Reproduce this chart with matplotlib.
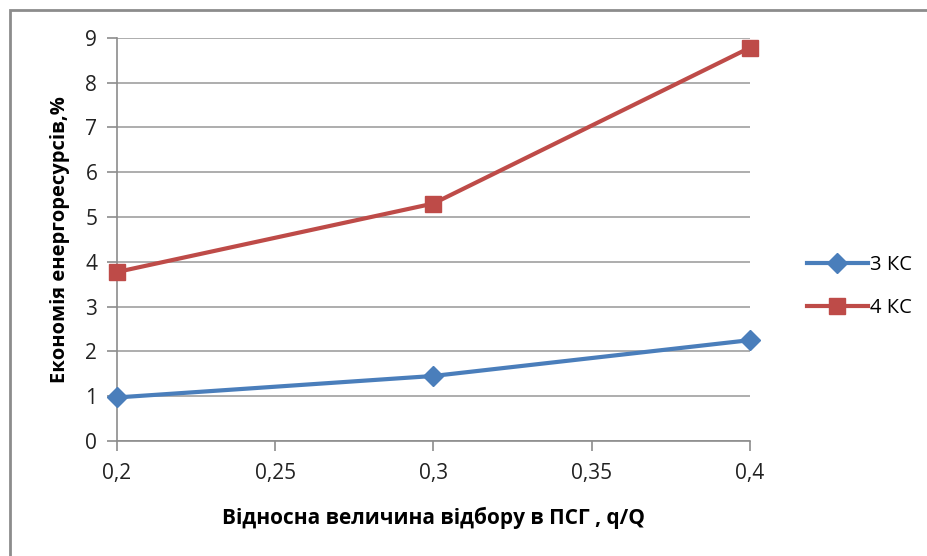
import matplotlib
matplotlib.use("Agg")
import matplotlib.pyplot as plt
from matplotlib.patches import Rectangle
from matplotlib.ticker import FuncFormatter

plt.rcParams["font.family"] = ["Open Sans", "DejaVu Sans"]

# data
share = [0.2, 0.3, 0.4]
ks3 = [0.97, 1.45, 2.25]
ks4 = [3.77, 5.30, 8.78]
x_ticks = [0.2, 0.25, 0.3, 0.35, 0.4]
y_ticks = list(range(0, 10))

fig = plt.figure(figsize=(9.27, 5.56), dpi=100)
ax = fig.add_axes([0.126, 0.207, 0.683, 0.725])

# outer chart frame
fig.patches.append(Rectangle((10 / 927, -0.1), 1.2, 1.1 - 10 / 556,
                             transform=fig.transFigure, fill=False,
                             edgecolor="#8c8c8c", linewidth=2.0))

ax.plot(share, ks3, color="#4a7ebb", linewidth=3, marker="D", markersize=10,
        label="3 КС", clip_on=False, zorder=3)
ax.plot(share, ks4, color="#be4b48", linewidth=3, marker="s", markersize=12,
        label="4 КС", clip_on=False, zorder=3)

ax.set_xlim(0.2, 0.4)
ax.set_ylim(0, 9)
ax.set_xticks(x_ticks)
ax.set_yticks(y_ticks)
ax.xaxis.set_major_formatter(FuncFormatter(lambda v, p: f"{v:g}".replace(".", ",")))
ax.yaxis.grid(True, color="#a0a0a0", linewidth=1.2)
ax.set_axisbelow(True)

for side in ("top", "right"):
    ax.spines[side].set_visible(False)
for side in ("left", "bottom"):
    ax.spines[side].set_color("#8c8c8c")
    ax.spines[side].set_linewidth(1.2)

ax.tick_params(axis="both", direction="out", length=7, width=1.2, color="#8c8c8c",
               labelsize=15, labelcolor="#222222")
ax.tick_params(axis="y", pad=7)
ax.tick_params(axis="x", pad=9)

ax.set_xlabel("Відносна величина відбору в ПСГ , q/Q", fontsize=15,
              fontweight="bold", labelpad=16)
ax.set_ylabel("Економія енергоресурсів,%", fontsize=14.5, fontweight="bold",
              labelpad=11)

fig.legend(loc="center left", bbox_to_anchor=(0.862, 0.484), frameon=False,
           fontsize=14.5, handlelength=3.0, labelspacing=1.15, handletextpad=0.1,
           borderaxespad=0)

fig.savefig("out.png", dpi=100)
